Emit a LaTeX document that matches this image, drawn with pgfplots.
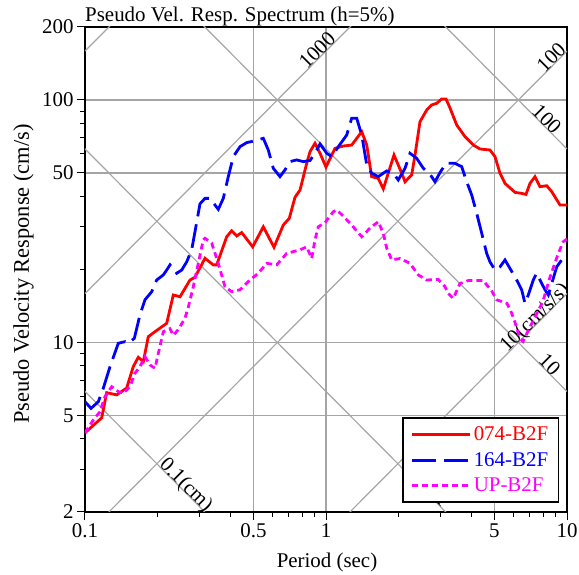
\documentclass[border=0pt]{standalone}
\usepackage{pgfplots}
\pgfplotsset{compat=1.18}
\usepackage{fontspec}
\setmainfont{Liberation Serif}

\definecolor{trigray}{RGB}{165,165,165}
\definecolor{specred}{RGB}{255,0,0}
\definecolor{specblue}{RGB}{0,0,255}
\definecolor{specmag}{RGB}{255,0,255}

\begin{document}
\begin{tikzpicture}[font=\fontsize{21}{25}\selectfont]
\begin{axis}[
    scale only axis,
    width=482bp, height=485bp,
    xmode=log, ymode=log,
    xmin=0.1, xmax=10, ymin=2, ymax=200,
    xtick={0.1,0.5,1,5,10}, xticklabels={0.1,0.5,1,5,10},
    minor xtick={0.2,0.3,0.4,0.6,0.7,0.8,0.9,2,3,4,6,7,8,9},
    ytick={2,5,10,50,100,200}, yticklabels={2,5,10,50,100,200},
    minor ytick={3,4,6,7,8,9,20,30,40,60,70,80,90},
    tick pos=left, tick align=outside,
    major tick length=8bp, minor tick length=5bp,
    every tick/.style={black, line width=1bp},
    grid=major,
    major grid style={draw=trigray, line width=1.2bp},
    axis line style={line width=1.4bp},
    legend style={at={(rel axis cs:0.983,0.019)}, anchor=south east,
        draw=black, line width=1.3bp, fill=white,
        font=\fontsize{21}{25}\selectfont, row sep=6bp,
        inner xsep=8bp, inner ysep=7bp},
    legend cell align=left,
    legend image code/.code={\draw[#1] (0bp,0bp) -- (58bp,0bp);},
]
% tripartite guide lines: displacement (slope -1) and acceleration (slope +1)
\addplot[trigray, line width=1.2bp, forget plot] coordinates {(0.05,12.566) (1,0.6283)};
\addplot[trigray, line width=1.2bp, forget plot] coordinates {(0.05,125.66) (10,0.6283)};
\addplot[trigray, line width=1.2bp, forget plot] coordinates {(0.1,628.3) (10,6.283)};
\addplot[trigray, line width=1.2bp, forget plot] coordinates {(1,628.3) (10,62.83)};
\addplot[trigray, line width=1.2bp, forget plot] coordinates {(1,1.5915) (10,15.915)};
\addplot[trigray, line width=1.2bp, forget plot] coordinates {(0.1,1.5915) (10,159.15)};
\addplot[trigray, line width=1.2bp, forget plot] coordinates {(0.1,15.915) (10,1591.5)};
\addplot[trigray, line width=1.2bp, forget plot] coordinates {(0.1,159.15) (1,1591.5)};

\node[rotate=45, anchor=base, inner sep=0] at (axis cs:0.9625,153.2) {1000};
\node[rotate=45, anchor=base, inner sep=0] at (axis cs:9.0,143.3) {100};
\node[rotate=45, anchor=base, inner sep=0] at (axis cs:7.65,12.18) {10(cm/s/s)};
\node[rotate=-45, anchor=base, inner sep=0] at (axis cs:7.877,79.8) {100};
\node[rotate=-45, anchor=base, inner sep=0] at (axis cs:8.103,7.754) {10};
\node[rotate=-45, anchor=base, inner sep=0] at (axis cs:0.2526,2.487) {0.1(cm)};
\node[rotate=-45, anchor=base, inner sep=0] at (axis cs:2.915,2.155) {1};

\addplot[specred, line width=2.8bp] coordinates {
(0.1,4.24)(0.1173,4.89)(0.1230,6.21)(0.1354,6.08)(0.1489,6.49)(0.1586,7.95)
(0.1664,8.69)(0.1746,8.34)(0.1831,10.57)(0.1952,11.08)(0.2183,12.0)(0.2325,15.7)
(0.2479,15.44)(0.2727,18.1)(0.2860,18.58)(0.3147,22.24)(0.3406,20.9)(0.3520,20.9)
(0.3873,27.3)(0.4062,28.9)(0.4261,27.5)(0.4469,28.4)(0.4965,24.8)(0.5494,30.0)
(0.6085,24.7)(0.6649,30.5)(0.7041,32.5)(0.7436,39.7)(0.7800,42.5)(0.8317,54.8)
(0.8583,61.2)(0.9002,66.3)(0.9444,60.3)(1.0,52.9)(1.090,63.2)(1.180,64.6)
(1.278,65.2)(1.407,74.0)(1.476,65.2)(1.547,48.3)(1.648,47.5)(1.729,43.0)
(1.915,59.3)(2.062,49.9)(2.128,46.0)(2.268,49.1)(2.341,59.3)(2.455,81.4)
(2.617,90.9)(2.745,95.4)(2.880,96.9)(3.021,101)(3.147,101)(3.270,92.7)
(3.486,78.9)(3.775,70.6)(4.086,65.2)(4.355,62.8)(4.791,62.2)(5.025,58.4)
(5.272,49.9)(5.530,45.3)(6.084,41.6)(6.486,41.2)(6.760,40.8)(7.022,45.3)
(7.365,48.3)(7.726,43.9)(8.238,44.3)(8.640,41.9)(9.354,36.9)(10,36.9)
};
\addlegendentry{\textcolor{specred}{074-B2F}}

\addplot[specblue, line width=2.8bp, dash pattern=on 24bp off 8bp] coordinates {
(0.1,5.70)(0.1059,5.35)(0.1136,5.70)(0.1191,6.47)(0.1270,7.95)(0.1375,9.93)
(0.1466,10.08)(0.1513,9.93)(0.1602,10.4)(0.1691,13.0)(0.1774,15.0)(0.1892,16.2)
(0.1984,18.1)(0.2114,19.0)(0.2183,19.9)(0.2253,20.9)(0.2402,19.3)(0.2519,19.9)
(0.2642,21.5)(0.2771,24.1)(0.2860,28.6)(0.3000,37.3)(0.3147,39.3)(0.3302,39.3)
(0.3573,35.4)(0.3749,39.3)(0.3932,48.3)(0.4125,58.4)(0.4397,64.2)(0.4688,66.7)
(0.5075,67.9)(0.5494,69.5)(0.5762,62.2)(0.6043,52.3)(0.6444,48.3)(0.6760,51.5)
(0.7090,55.7)(0.7560,56.6)(0.8053,55.7)(0.8583,56.3)(0.9002,60.3)(0.9444,65.9)
(1.0067,60.3)(1.056,58.4)(1.125,64.2)(1.219,71.7)(1.278,84.1)(1.341,84.1)
(1.407,71.7)(1.476,54.0)(1.547,49.9)(1.648,48.3)(1.786,51.0)(1.903,49.9)
(1.995,46.8)(2.128,52.3)(2.231,60.3)(2.378,57.5)(2.533,52.3)(2.701,49.4)
(2.834,46.0)(2.972,50.2)(3.147,54.8)(3.430,54.8)(3.657,53.1)(3.835,46.0)
(4.023,40.6)(4.220,34.1)(4.427,28.2)(4.643,23.3)(4.791,21.5)(5.025,19.9)
(5.272,20.5)(5.530,21.9)(5.800,20.2)(6.183,18.1)(6.486,16.5)(6.694,14.5)
(6.909,15.7)(7.246,18.1)(7.486,19.3)(7.726,18.1)(8.103,16.5)(8.364,15.7)
(8.640,17.5)(9.063,20.5)(9.506,21.9)(10,21.2)
};
\addlegendentry{\textcolor{specblue}{164-B2F}}

\addplot[specmag, line width=2.8bp, dash pattern=on 6bp off 4bp] coordinates {
(0.1,4.24)(0.1082,4.79)(0.1154,5.18)(0.1210,5.98)(0.1291,6.57)(0.1375,6.27)
(0.1442,6.17)(0.1537,6.57)(0.1612,7.47)(0.1691,7.95)(0.1774,8.74)(0.1861,8.08)
(0.1952,7.83)(0.2015,9.02)(0.2114,11.08)(0.2253,11.4)(0.2325,10.7)(0.2438,11.3)
(0.2600,12.6)(0.2684,14.0)(0.2815,17.0)(0.2952,21.2)(0.3096,26.5)(0.3147,26.9)
(0.3355,25.7)(0.3573,21.2)(0.3810,17.0)(0.4062,16.2)(0.4397,16.5)(0.4837,18.1)
(0.5237,19.3)(0.5675,21.2)(0.6244,20.9)(0.6869,23.3)(0.7318,23.7)(0.7800,24.1)
(0.8317,24.8)(0.8724,22.2)(0.9002,26.5)(0.9290,30.0)(0.9906,31.2)(1.072,34.6)
(1.108,35.2)(1.180,33.2)(1.278,30.5)(1.407,27.3)(1.522,29.6)(1.648,31.5)
(1.729,28.2)(1.786,24.5)(1.874,21.9)(2.028,22.2)(2.231,21.2)(2.415,19.0)
(2.617,18.1)(2.924,18.2)(3.117,17.0)(3.217,15.95)(3.374,15.2)(3.597,17.5)
(3.895,18.0)(4.496,18.0)(4.871,16.3)(5.108,15.0)(5.636,14.5)(5.896,13.2)
(6.084,12.1)(6.383,10.4)(6.568,10.1)(7.022,11.6)(7.508,13.2)(7.951,14.8)
(8.501,18.6)(9.088,22.5)(9.625,26.0)(10,26.7)
};
\addlegendentry{\textcolor{specmag}{UP-B2F}}
\end{axis}
\node[anchor=base west, inner sep=0] at (0bp,490bp) {Pseudo Vel. Resp. Spectrum (h=5\%)};
\node[anchor=base, inner sep=0, rotate=90, font=\fontsize{22.5}{26}\selectfont] at (-56bp,238bp) {Pseudo Velocity Response (cm/s)};
\node[anchor=base, inner sep=0] at (242bp,-55bp) {Period (sec)};
\pgfresetboundingbox
\path (-85bp,-63bp) rectangle (494bp,512bp);
\end{tikzpicture}
\end{document}
